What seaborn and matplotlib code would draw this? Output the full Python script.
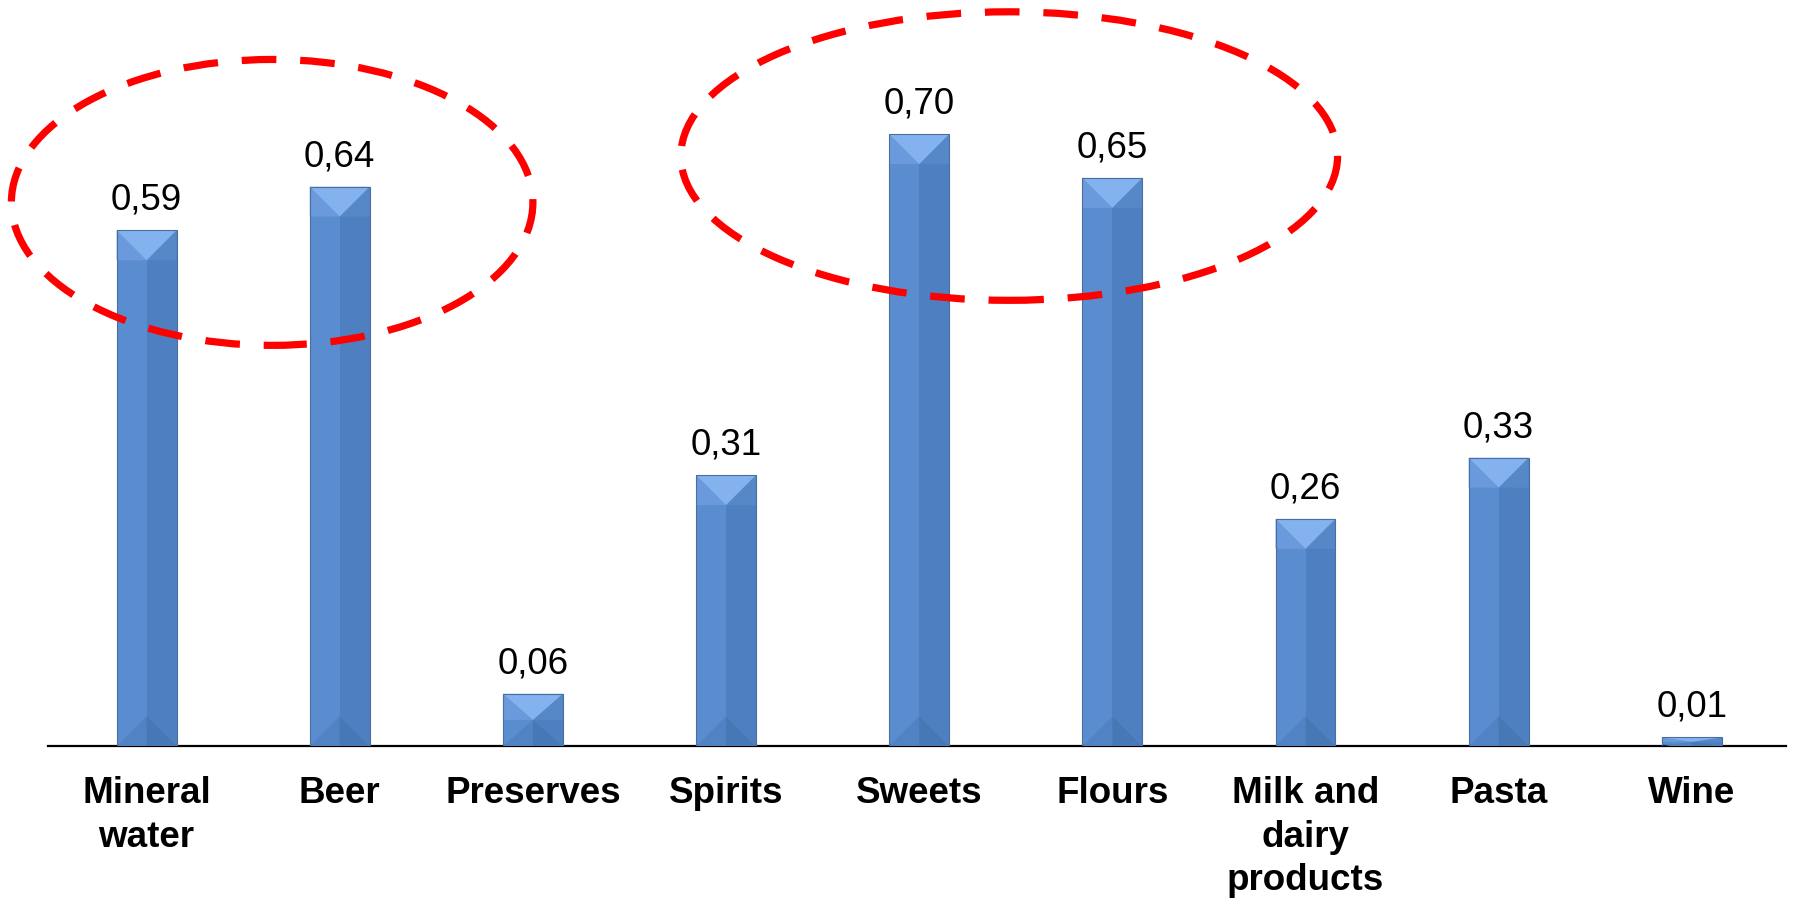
import matplotlib
matplotlib.use("Agg")
import matplotlib.pyplot as plt
from matplotlib.patches import Ellipse, Polygon, Rectangle
import seaborn as sns
import pandas as pd

# Chart data
categories = ["Mineral\nwater", "Beer", "Preserves", "Spirits", "Sweets",
              "Flours", "Milk and\ndairy\nproducts", "Pasta", "Wine"]
values = [0.59, 0.64, 0.06, 0.31, 0.70, 0.65, 0.26, 0.33, 0.01]
value_labels = ["0,59", "0,64", "0,06", "0,31", "0,70", "0,65", "0,26", "0,33", "0,01"]

# Highlight rings (centre x, centre y, width, height) in data units
ring_centers = [(0.65, 0.622), (4.466, 0.675)]
ring_sizes = [(2.70, 0.327), (3.40, 0.330)]

sns.set_theme(style="white")
plt.rcParams["font.family"] = ["Liberation Sans", "DejaVu Sans"]

df = pd.DataFrame({"category": categories, "value": values})

fig = plt.figure(figsize=(17.94, 8.98), dpi=100)
ax = fig.add_axes([0.0268, 0.169, 0.969, 0.831])

sns.barplot(data=df, x="category", y="value", color="#5A8CD0",
            width=0.31, saturation=1, edgecolor="none", ax=ax)

ax.set_xlim(-0.51, 8.49)
ax.set_ylim(0, 0.8535)
fig.canvas.draw()

# Bevelled look for each bar
inv = ax.transData
for p in list(ax.patches):
    x0, y0 = p.get_x(), p.get_y()
    w, h = p.get_width(), p.get_height()
    xc = x0 + w / 2
    # depth of the 45-degree bevel, converted to data units on y
    w_px = inv.transform((x0 + w, 0))[0] - inv.transform((x0, 0))[0]
    unit_px = inv.transform((0, 1))[1] - inv.transform((0, 0))[1]
    d = min((w_px / 2) / unit_px, h / 2)
    top = y0 + h
    ax.add_patch(Rectangle((xc, y0), w / 2, h, facecolor="#4E7FC0",
                           edgecolor="none", zorder=3))
    # side strips of the top bevel
    ax.add_patch(Polygon([(x0, top), (xc, top - d), (x0, top - d)],
                         closed=True, facecolor="#6A9ADB", edgecolor="none", zorder=4))
    ax.add_patch(Polygon([(x0 + w, top), (xc, top - d), (x0 + w, top - d)],
                         closed=True, facecolor="#5688C8", edgecolor="none", zorder=4))
    ax.add_patch(Polygon([(x0, top), (x0 + w, top), (xc, top - d)],
                         closed=True, facecolor="#84B2EE", edgecolor="none", zorder=4))
    # bottom bevel
    ax.add_patch(Polygon([(x0, y0), (x0 + w, y0), (xc, y0 + d)],
                         closed=True, facecolor="#5183C4", edgecolor="none", zorder=4))
    ax.add_patch(Polygon([(xc, y0), (x0 + w, y0), (xc, y0 + d)],
                         closed=True, facecolor="#4877B5", edgecolor="none", zorder=4))
    ax.add_patch(Rectangle((x0, y0), w, h, facecolor="none",
                           edgecolor="#4A6E9E", linewidth=0.8, zorder=5))

for i, (v, lab) in enumerate(zip(values, value_labels)):
    ax.annotate(lab, (i, v), xytext=(0, 9), textcoords="offset points",
                ha="center", va="bottom", fontsize=26.5, color="black")

for (cx, cy), (ew, eh) in zip(ring_centers, ring_sizes):
    ax.add_patch(Ellipse((cx, cy), ew, eh, fill=False, edgecolor="#FF0000",
                         linewidth=5.2, linestyle=(0, (4.8, 3.3)), zorder=6,
                         clip_on=False))

for s in ["top", "right", "left"]:
    ax.spines[s].set_visible(False)
ax.spines["bottom"].set_color("black")
ax.spines["bottom"].set_linewidth(1.6)
ax.set_yticks([])
ax.set_xlabel("")
ax.set_ylabel("")
ax.tick_params(axis="x", length=0, pad=21.5, labelcolor="black")
for t in ax.get_xticklabels():
    t.set_fontsize(26.5)
    t.set_fontweight("bold")
    t.set_va("top")
    t.set_linespacing(1.32)

fig.savefig("out.png", dpi=100, facecolor="white")
